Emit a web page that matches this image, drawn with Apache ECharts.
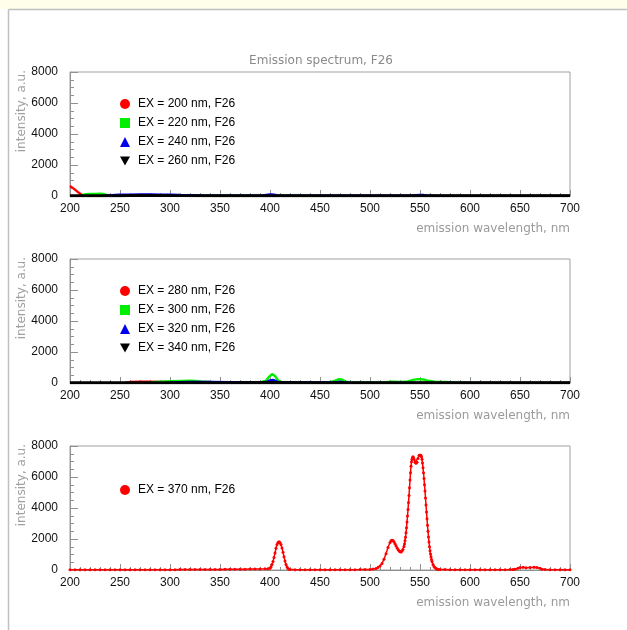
<!DOCTYPE html>
<html>
<head>
<meta charset="utf-8">
<script src="https://cdn.jsdelivr.net/npm/echarts@6/dist/echarts.min.js"></script>
<style>html,body{margin:0;padding:0;background:#fff}#c{width:627px;height:630px}</style>
</head>
<body>
<div id="c"></div>
<script>
// ---- data (wavelength nm, intensity a.u.) ----
var xTicks = [200, 250, 300, 350, 400, 450, 500, 550, 600, 650, 700];
var yTicks = [0, 2000, 4000, 6000, 8000];
var titleText = 'Emission spectrum, F26';
var xName = 'emission wavelength, nm';
var yName = 'intensity, a.u.';

var names1 = ['EX = 200 nm, F26', 'EX = 220 nm, F26', 'EX = 240 nm, F26', 'EX = 260 nm, F26'];
var names2 = ['EX = 280 nm, F26', 'EX = 300 nm, F26', 'EX = 320 nm, F26', 'EX = 340 nm, F26'];
var names3 = ['EX = 370 nm, F26'];

var ex200 = [[200,650],[202,560],[204,460],[206,360],[208,250],[210,150],[212,60],[214,15],[216,5],[230,5],[300,5],[400,5],[500,5],[600,5],[700,5]];
var ex220 = [[212,60],[214,100],[216,120],[220,130],[225,140],[230,150],[233,140],[235,100],[237,50],[240,30],[260,20],[300,15],[400,15],[500,10],[600,10],[700,10]];
var ex240 = [[235,20],[240,40],[245,60],[250,80],[260,90],[270,100],[280,100],[290,90],[300,80],[310,60],[320,50],[330,30],[340,20],[380,15],[393,30],[398,80],[401,100],[404,90],[408,40],[412,20],[500,15],[540,20],[546,50],[550,70],[554,60],[558,25],[565,15],[700,10]];
var ex260 = [[200,10],[250,20],[260,30],[280,35],[300,25],[350,15],[400,20],[450,10],[550,15],[700,10]];

var ex280 = [[255,20],[260,60],[270,80],[280,80],[290,70],[300,60],[310,40],[320,20],[340,10],[400,5],[700,5]];
var ex300 = [[280,40],[290,80],[300,110],[310,140],[320,150],[325,130],[330,100],[340,60],[350,40],[370,30],[390,40],[396,150],[399,400],[402,580],[405,450],[408,180],[412,50],[420,30],[460,40],[465,150],[469,250],[472,220],[476,80],[480,30],[515,40],[520,80],[525,90],[530,70],[538,100],[543,200],[548,250],[553,230],[558,150],[565,90],[575,60],[585,30],[600,15],[700,10]];
var ex320 = [[300,30],[320,60],[340,60],[360,50],[375,40],[385,20],[396,60],[400,170],[403,200],[406,120],[410,30],[465,40],[470,80],[474,40],[480,10],[700,5]];
var ex340 = [[200,15],[300,20],[350,20],[400,25],[450,15],[550,15],[700,10]];

var ex370 = [[200,20],[205,20],[210,20],[215,20],[220,20],[225,20],[230,20],[235,20],[240,20],[245,20],[250,20],[255,20],[260,20],[265,20],[270,20],[275,20],[280,20],[285,20],[290,20],[295,20],[300,20],[305,22],[310,25],[315,25],[320,25],[325,28],[330,30],[335,30],[340,30],[345,35],[350,40],[355,42],[360,45],[365,48],[370,50],[375,55],[380,60],[385,65],[390,70],[395,75],[398,80],[400,120],[401,200],[402,350],[403,550],[404,800],[405,1100],[406,1400],[407,1650],[408,1780],[409,1820],[410,1780],[411,1650],[412,1420],[413,1150],[414,850],[415,580],[416,360],[417,200],[418,100],[419,50],[420,30],[425,20],[430,15],[435,15],[440,15],[445,15],[450,15],[455,15],[460,15],[465,15],[470,15],[475,18],[480,20],[485,22],[490,25],[495,30],[500,40],[503,60],[506,100],[508,160],[510,260],[512,420],[514,700],[516,1050],[518,1450],[520,1780],[521,1880],[522,1920],[523,1900],[524,1820],[525,1700],[526,1560],[527,1430],[528,1320],[529,1240],[530,1180],[531,1160],[532,1220],[533,1330],[534,1520],[534.5,1680],[535,1880],[535.5,2120],[536,2400],[536.5,2730],[537,3100],[537.5,3480],[538,3900],[538.5,4350],[539,4800],[539.5,5300],[540,5800],[540.5,6280],[541,6700],[541.5,6980],[542,7150],[542.5,7260],[543,7300],[543.5,7250],[544,7150],[545,6950],[546,6880],[547,6950],[548,7200],[549,7380],[550,7420],[551,7380],[551.5,7300],[552,7150],[552.5,6900],[553,6600],[553.5,6270],[554,5900],[554.5,5500],[555,5100],[555.5,4650],[556,4200],[556.5,3750],[557,3300],[557.5,2880],[558,2500],[558.5,2130],[559,1800],[559.5,1500],[560,1250],[560.5,1030],[561,850],[561.5,680],[562,550],[563,350],[564,220],[565,140],[566,90],[567,60],[568,40],[570,30],[575,25],[580,20],[585,20],[590,20],[595,20],[600,20],[605,20],[610,20],[615,20],[620,20],[625,20],[630,20],[635,22],[640,25],[643,35],[645,50],[648,110],[650,160],[653,170],[656,150],[660,160],[664,170],[667,160],[670,110],[672,50],[675,25],[680,20],[685,20],[690,20],[695,20],[700,20]];

// ---- chart ----
var FONT = '"Liberation Sans", Arial, sans-serif';
var GRAYFONT = '"DejaVu Sans", sans-serif';
var tops = [72, 259, 446];
var grids = [], xAxes = [], yAxes = [], legends = [], series = [], graphics = [];

graphics.push({type:'rect', shape:{x:0,y:0,width:627,height:9}, style:{fill:'#fefeea'}, silent:true, z:-10});
graphics.push({type:'line', shape:{x1:8.5,y1:9.5,x2:627,y2:9.5}, style:{stroke:'#c0c0c0',lineWidth:1.5}, silent:true});
graphics.push({type:'line', shape:{x1:8.5,y1:9.5,x2:8.5,y2:630}, style:{stroke:'#c0c0c0',lineWidth:1.5}, silent:true});
graphics.push({type:'text', x:321, y:61, style:{text:titleText, font:'12px '+GRAYFONT, fill:'#8a8a8a', textAlign:'center', textVerticalAlign:'middle'}, silent:true});

for (var i = 0; i < 3; i++) {
  grids.push({left:70, top:tops[i], width:500, height:124, show:true, borderColor:'#a0a0a0', borderWidth:1, backgroundColor:'#fff'});
  xAxes.push({
    type:'value', gridIndex:i, min:xTicks[0], max:xTicks[xTicks.length-1], interval:50,
    axisLine:{show:true, onZero:false, lineStyle:{color:'#909090', width:1}},
    axisTick:{show:true, inside:true, length:6, lineStyle:{color:'#909090'}},
    minorTick:{show:true, splitNumber:5, length:3, lineStyle:{color:'#909090'}},
    splitLine:{show:false},
    axisLabel:{margin:7, color:'#111', fontFamily:FONT, fontSize:12, showMinLabel:true, showMaxLabel:true}
  });
  yAxes.push({
    type:'value', gridIndex:i, min:yTicks[0], max:yTicks[yTicks.length-1], interval:2000,
    axisLine:{show:true, lineStyle:{color:'#909090', width:1}},
    axisTick:{show:true, inside:true, length:8, lineStyle:{color:'#909090'}},
    minorTick:{show:true, splitNumber:4, length:4, lineStyle:{color:'#909090'}},
    splitLine:{show:false},
    axisLabel:{margin:12, color:'#111', fontFamily:FONT, fontSize:12, formatter:function(v){ return String(v); }}
  });
  graphics.push({type:'text', x:570, y:tops[i]+157, style:{text:xName, font:'12px '+GRAYFONT, fill:'#9a9a9a', textAlign:'right', textVerticalAlign:'middle'}, silent:true});
  graphics.push({type:'text', x:22, y:tops[i]-2, rotation:Math.PI/2, style:{text:yName, font:'12px '+GRAYFONT, fill:'#a0a0a0', textAlign:'right', textVerticalAlign:'middle'}, silent:true});
}

var icons = ['circle', 'rect', 'triangle', 'path://M0,0L10,0L5,9Z'];
var colors = ['#ff0000', '#00ee00', '#0000ee', '#000000'];

function legendFor(names, top) {
  return {
    orient:'vertical', left:115, top:top, itemWidth:10, itemHeight:10, itemGap:7,
    data: names.map(function(n, k){ return {name:n, icon:icons[k]}; }),
    textStyle:{fontFamily:FONT, fontSize:12, color:'#000', padding:[0,0,0,3]},
    selectedMode:false
  };
}
legends.push(legendFor(names1, 93));
legends.push(legendFor(names2, 280));
legends.push(legendFor(names3, 479));

var p1 = [ex200, ex220, ex240, ex260];
var p2 = [ex280, ex300, ex320, ex340];
p1.forEach(function(d, k){
  series.push({name:names1[k], type:'line', xAxisIndex:0, yAxisIndex:0, data:d, symbol:'none', smooth:false,
    lineStyle:{color:colors[k], width:k===3?3:2.4}, itemStyle:{color:colors[k]}});
});
p2.forEach(function(d, k){
  series.push({name:names2[k], type:'line', xAxisIndex:1, yAxisIndex:1, data:d, symbol:'none', smooth:false,
    lineStyle:{color:colors[k], width:k===3?3:2.4}, itemStyle:{color:colors[k]}});
});
series.push({name:names3[0], type:'line', xAxisIndex:2, yAxisIndex:2, data:ex370, symbol:'circle', symbolSize:3, showSymbol:true,
  lineStyle:{color:'#ff0000', width:1.5}, itemStyle:{color:'#ff0000'}});

var chart = echarts.init(document.getElementById('c'), null, {renderer:'canvas'});
chart.setOption({
  animation:false,
  backgroundColor:'#ffffff',
  grid:grids, xAxis:xAxes, yAxis:yAxes, legend:legends, series:series, graphic:graphics
});
</script>
</body>
</html>
